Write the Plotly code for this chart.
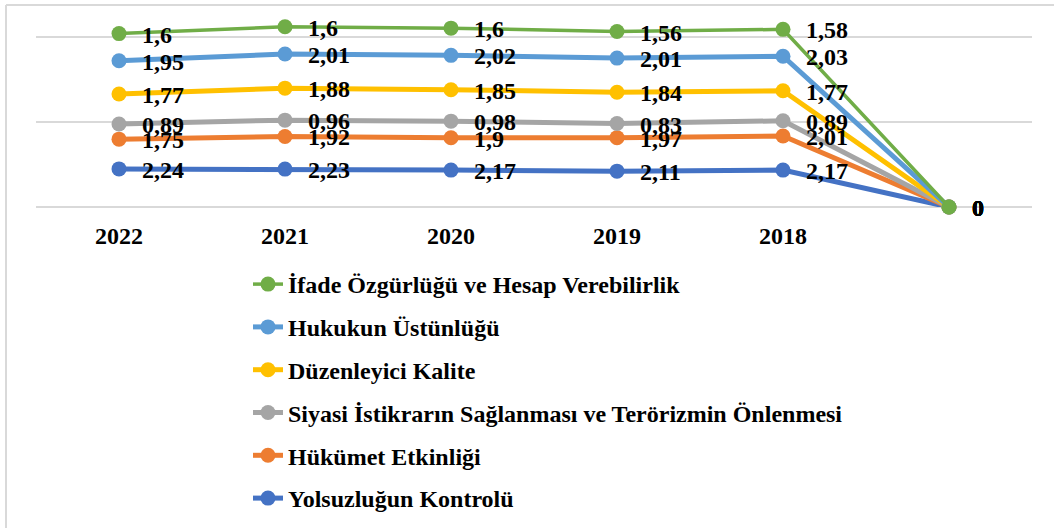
import numpy as np
import plotly.graph_objects as go

categories = ["2022", "2021", "2020", "2019", "2018", ""]

# series in stacking order (bottom first)
yolsuzluk = [2.24, 2.23, 2.17, 2.11, 2.17, 0]
hukumet = [1.75, 1.92, 1.90, 1.97, 2.01, 0]
siyasi = [0.89, 0.96, 0.98, 0.83, 0.89, 0]
duzenleyici = [1.77, 1.88, 1.85, 1.84, 1.77, 0]
hukukun = [1.95, 2.01, 2.02, 2.01, 2.03, 0]
ifade = [1.60, 1.60, 1.60, 1.56, 1.58, 0]

series_names = [
    "Yolsuzluğun Kontrolü",
    "Hükümet Etkinliği",
    "Siyasi İstikrarın Sağlanması ve Terörizmin Önlenmesi",
    "Düzenleyici Kalite",
    "Hukukun Üstünlüğü",
    "İfade Özgürlüğü ve Hesap Verebilirlik",
]
series_values = [yolsuzluk, hukumet, siyasi, duzenleyici, hukukun, ifade]
colors = ["#4472C4", "#ED7D31", "#A5A5A5", "#FFC000", "#5B9BD5", "#70AD47"]
widths = [5, 5, 5, 5, 5, 3.5]

FONT = "Liberation Serif, Times New Roman, serif"
FS = 24
W, H = 1054, 528
L, R, T, B = 36, 22, 20, 321
ymax = (H - T - B) / 17.0

x = list(range(len(categories)))
stack = np.cumsum(np.array(series_values, dtype=float), axis=0)
n = len(series_names)

fig = go.Figure()
for i, (name, vals) in enumerate(zip(series_names, series_values)):
    fig.add_trace(go.Scatter(
        x=x, y=stack[i], name="<b>" + name + "</b>", mode="lines+markers",
        line=dict(color=colors[i], width=widths[i]),
        marker=dict(color=colors[i], size=15),
        legendgroup=str(i), legendrank=n - i, cliponaxis=False, hoverinfo="skip",
    ))

def fmt(v):
    s = ("%.2f" % v).rstrip("0").rstrip(".")
    return s.replace(".", ",")

annotations = []
for i, vals in enumerate(series_values):
    for j, v in enumerate(vals):
        annotations.append(dict(
            x=x[j], y=stack[i][j], xref="x", yref="y", text="<b>" + fmt(v) + "</b>",
            showarrow=False, xanchor="left", yanchor="middle",
            xshift=21, yshift=-1,
            font=dict(family=FONT, size=FS, color="black"),
        ))

pw = W - L - R
ph = H - T - B
def px_x(p):
    return (p - L) / pw
def px_y(p):
    return (H - B - p) / ph

shapes = [
    dict(type="line", xref="paper", yref="paper", x0=px_x(6), x1=px_x(W + 5),
         y0=px_y(5), y1=px_y(5), line=dict(color="#D9D9D9", width=2)),
    dict(type="line", xref="paper", yref="paper", x0=px_x(6), x1=px_x(6),
         y0=px_y(5), y1=px_y(H + 5), line=dict(color="#D9D9D9", width=2)),
]

fig.update_layout(
    width=W, height=H,
    margin=dict(l=L, r=R, t=T, b=B, autoexpand=False),
    paper_bgcolor="white", plot_bgcolor="white",
    font=dict(family=FONT, size=FS, color="black"),
    showlegend=True,
    legend=dict(
        orientation="v", traceorder="grouped",
        x=px_x(248), xanchor="left", y=px_y(262), yanchor="top",
        font=dict(family=FONT, size=FS, color="black"),
        tracegroupgap=8.6, itemwidth=30, bgcolor="rgba(0,0,0,0)",
    ),
    xaxis=dict(
        tickmode="array", tickvals=x, ticktext=["<b>" + c + "</b>" for c in categories],
        range=[-0.5, len(categories) - 0.5],
        showgrid=False, zeroline=False, showline=False, ticks="",
        ticklabelstandoff=12, automargin=False,
        tickfont=dict(family=FONT, size=FS, color="black"),
    ),
    yaxis=dict(
        range=[0, ymax], dtick=5, tick0=0, showticklabels=False,
        showgrid=True, gridcolor="#D9D9D9", gridwidth=1.5,
        zeroline=True, zerolinecolor="#D9D9D9", zerolinewidth=1.5,
        showline=False, ticks="", automargin=False,
    ),
    annotations=annotations,
    shapes=shapes,
)

fig.write_html("out.html", config={"displayModeBar": False},
               post_script="document.body.style.margin='0';")
